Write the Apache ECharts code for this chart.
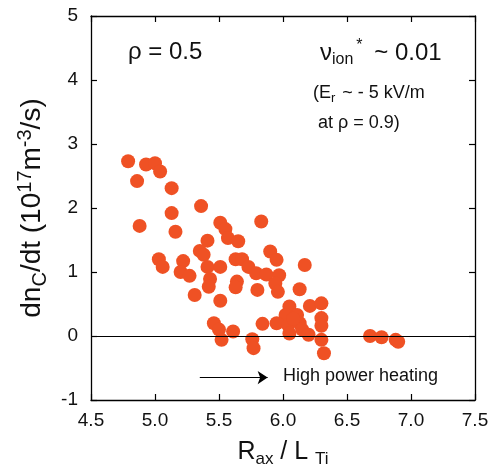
<!DOCTYPE html>
<html><head><meta charset="utf-8">
<script src="https://cdn.jsdelivr.net/npm/echarts@6/dist/echarts.min.js"></script>
<style>html,body{margin:0;padding:0;background:#fff}#c{width:496px;height:471px}</style>
</head><body><div id="c"></div>
<script>
const xValues = [4.79,4.93,5.00,5.04,4.86,5.13,5.36,5.13,4.88,5.16,5.51,5.55,5.57,5.83,5.41,5.65,5.35,5.38,5.03,5.06,5.22,5.20,5.27,5.41,5.51,5.63,5.68,5.73,5.79,5.87,5.90,5.95,5.97,5.94,5.96,5.64,5.63,5.43,5.42,5.31,5.80,6.17,6.13,5.51,6.21,6.30,6.05,6.02,6.11,6.30,6.30,5.84,5.95,6.04,6.13,6.05,6.15,6.20,5.46,5.50,5.52,5.61,5.76,5.77,6.30,6.32,6.68,6.77,6.88,6.90,6.08];
const yValues = [2.73,2.68,2.70,2.57,2.42,2.31,2.03,1.92,1.72,1.63,1.77,1.67,1.53,1.79,1.49,1.48,1.33,1.27,1.20,1.08,1.17,1.00,0.94,1.08,1.08,1.20,1.20,1.08,0.98,0.96,1.32,1.19,0.95,0.82,0.69,0.85,0.76,0.89,0.77,0.64,0.72,1.11,0.73,0.55,0.47,0.51,0.46,0.33,0.33,0.28,0.16,0.19,0.20,0.17,0.20,0.04,0.10,0.02,0.20,0.10,-0.06,0.07,-0.05,-0.19,-0.06,-0.27,0.00,-0.02,-0.06,-0.09,0.27];
const xTicks = [4.5,5.0,5.5,6.0,6.5,7.0,7.5];
const yTicks = [-1,0,1,2,3,4,5];

const FONT = 'Liberation Sans';
const points = xValues.map((x,i)=>[x,yValues[i]]);
const chart = echarts.init(document.getElementById('c'), null, {renderer:'canvas'});
const axLine = {show:true, onZero:false, lineStyle:{color:'#000', width:1.3}};
const tick = {show:true, inside:true, length:6, lineStyle:{color:'#000', width:1.2}};
chart.setOption({
  animation:false,
  backgroundColor:'#fff',
  grid:{left:91, top:16, right:21, bottom:71, containLabel:false, outerBoundsMode:'none'},
  xAxis:[{
    type:'value', min:xTicks[0], max:xTicks[xTicks.length-1], interval:0.5,
    axisLine:axLine, axisTick:tick, splitLine:{show:false},
    axisLabel:{color:'#111', fontFamily:FONT, fontSize:19, margin:11, formatter:v=>v.toFixed(1)},
    name:'R{sub|ax} / L {sub|Ti}', nameLocation:'middle', nameGap:37,
    nameTextStyle:{color:'#111', fontFamily:FONT, fontSize:25,
      rich:{sub:{fontFamily:FONT, fontSize:17, color:'#111', padding:[14,0,0,0]}}}
  },{
    type:'value', position:'top', min:xTicks[0], max:xTicks[xTicks.length-1], interval:0.5,
    axisLine:axLine, axisTick:tick, axisLabel:{show:false}, splitLine:{show:false}
  }],
  yAxis:[{
    type:'value', min:yTicks[0], max:yTicks[yTicks.length-1], interval:1,
    axisLine:axLine, axisTick:tick, splitLine:{show:false},
    axisLabel:{color:'#111', fontFamily:FONT, fontSize:19, margin:13},
    name:'dn{sub|C}/dt (10{sup|17}m{sup|-3}/s)', nameLocation:'middle', nameGap:40, nameRotate:90,
    nameTextStyle:{color:'#111', fontFamily:FONT, fontSize:28,
      rich:{sub:{fontFamily:FONT, fontSize:20, color:'#111', padding:[15,0,0,0]},
            sup:{fontFamily:FONT, fontSize:20, color:'#111', padding:[0,0,15,0]}}}
  },{
    type:'value', position:'right', min:yTicks[0], max:yTicks[yTicks.length-1], interval:1,
    axisLine:axLine, axisTick:tick, axisLabel:{show:false}, splitLine:{show:false}
  }],
  series:[{
    type:'scatter', data:points, symbolSize:14,
    itemStyle:{color:'#EF5124', opacity:1},
    markLine:{
      silent:true, symbol:'none', label:{show:false},
      lineStyle:{color:'#000', width:1.2, type:'solid'},
      data:[[{coord:[4.5,0]},{coord:[7.5,0]}]]
    }
  },{
    type:'scatter', data:[[4.5,-5]], symbolSize:0,
    markLine:{
      silent:true, symbol:['none','arrow'], symbolSize:10, label:{show:false},
      lineStyle:{color:'#000', width:1.2, type:'solid'},
      data:[[{coord:[5.35,-0.65]},{coord:[5.88,-0.65]}]]
    }
  }],
  graphic:[
    {type:'text', left:128, top:40, style:{text:'ρ = 0.5', font:'24px "Liberation Sans"', fill:'#111'}},
    {type:'text', left:320, top:38, style:{
      text:'ν{sub|ion}{sup|*} ~ 0.01', font:'24px "Liberation Sans"', fill:'#111',
      rich:{sub:{fontSize:16, fontFamily:FONT, fill:'#111', padding:[14,3,0,0]},
            sup:{fontSize:16, fontFamily:FONT, fill:'#111', padding:[0,5,14,0]}}}},
    {type:'text', left:313, top:84, style:{
      text:'(E{sub|r} ~ - 5 kV/m', font:'18px "Liberation Sans"', fill:'#111',
      rich:{sub:{fontSize:13, fontFamily:FONT, fill:'#111', padding:[10,2,0,0]}}}},
    {type:'text', left:318, top:114, style:{text:'at ρ = 0.9)', font:'18px "Liberation Sans"', fill:'#111'}},
    {type:'text', left:283, top:367, style:{text:'High power heating', font:'18px "Liberation Sans"', fill:'#111'}}
  ]
});
</script></body></html>
